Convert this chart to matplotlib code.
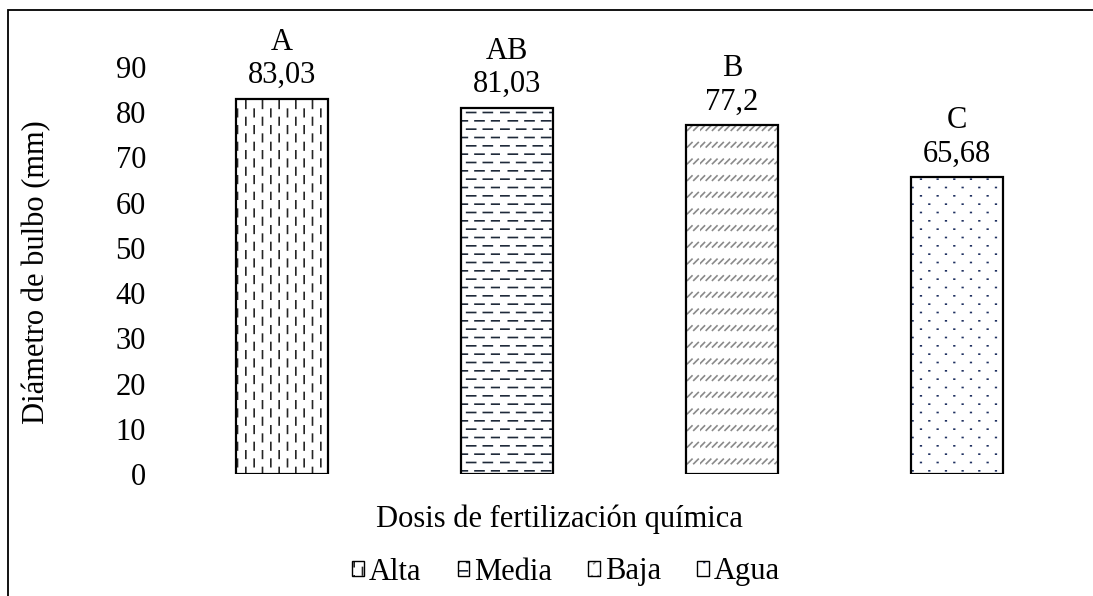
import numpy as np
import matplotlib
matplotlib.use("Agg")
import matplotlib.pyplot as plt
import matplotlib.hatch as mhatch
from matplotlib.path import Path
from matplotlib.patches import Rectangle, Patch

categories = ["Alta", "Media", "Baja", "Agua"]
values = [83.03, 81.03, 77.2, 65.68]
value_labels = ["83,03", "81,03", "77,2", "65,68"]
letters = ["A", "AB", "B", "C"]
yticks = list(range(0, 100, 10))
hatches = ["|", "-", "/", "."]
hatch_colors = ["#262626", "#1f2a3a", "#8a8a8a", "#1f3060"]

# ---- custom hatch patterns (dashed styles as in the reference) ----
_orig_get_path = mhatch.get_path


def _segments_path(segs):
    verts, codes = [], []
    for (x0, y0), (x1, y1) in segs:
        verts += [(x0, y0), (x1, y1)]
        codes += [Path.MOVETO, Path.LINETO]
    return Path(np.array(verts, float), np.array(codes, Path.code_type))


def custom_get_path(hatchpattern, density=6):
    segs = []
    if hatchpattern == "|":
        nc, nr, L = 12, 6, 0.075
        for i in range(nc):
            x = (i + 0.5) / nc
            off = 0.5 / nr if i % 2 else 0.0
            for j in range(nr):
                y0 = j / nr + off
                segs.append(((x, y0), (x, y0 + L)))
    elif hatchpattern == "-":
        nc, nr, L = 6, 12, 0.09
        for j in range(nr):
            y = (j + 0.5) / nr
            off = 0.5 / nc if j % 2 else 0.0
            for i in range(nc):
                x0 = i / nc + off
                segs.append(((x0, y), (x0 + L, y)))
    elif hatchpattern == "/":
        nr, nc, h = 6, 16, 0.045
        for j in range(nr):
            y0 = j / nr + 0.03
            for i in range(nc):
                x0 = i / nc
                segs.append(((x0, y0), (x0 + h, y0 + h)))
    elif hatchpattern == ".":
        nc, nr, d = 6, 12, 0.006
        for j in range(nr):
            y = (j + 0.5) / nr
            off = 0.5 / nc if j % 2 else 0.0
            for i in range(nc):
                x0 = i / nc + off + 0.04
                segs.append(((x0, y), (x0 + d, y)))
    else:
        return _orig_get_path(hatchpattern, density)
    return _segments_path(segs)


mhatch.get_path = custom_get_path

plt.rcParams["font.family"] = ["Liberation Serif", "DejaVu Serif"]
plt.rcParams["hatch.linewidth"] = 1.2

FS = 22
W, H = 1093, 596
fig = plt.figure(figsize=(W / 100, H / 100), dpi=100)
ax = fig.add_axes([169.5 / W, (H - 474) / H, 900 / W, (474 - 67) / H])

x = np.arange(len(categories))
# hatched fill (hatch colour follows the edge colour), then black outline
fills = ax.bar(x, values, width=0.41, color="white", edgecolor=hatch_colors,
               linewidth=0)
for b, h in zip(fills, hatches):
    b.set_hatch(h)
ax.bar(x, values, width=0.41, color="none", edgecolor="black", linewidth=1.6)

for xi, v, lab, let in zip(x, values, value_labels, letters):
    ax.annotate(f"{let}\n{lab}", (xi, v), xytext=(0, 6), textcoords="offset points",
                ha="center", va="bottom", fontsize=FS, linespacing=1.2)

ax.set_xlim(-0.5, len(categories) - 0.5)
ax.set_ylim(0, 90)
ax.set_yticks(yticks)
ax.set_xticks([])
ax.tick_params(axis="y", length=0, pad=17, labelsize=FS)
for s in ax.spines.values():
    s.set_visible(False)

fig.text(37 / W, 1 - 272 / H, "Diámetro de bulbo (mm)", rotation=90,
         ha="center", va="center", fontsize=FS)
fig.text(559 / W, 1 - 519 / H, "Dosis de fertilización química",
         ha="center", va="center", fontsize=FS)

handles = [Patch(facecolor="white", edgecolor=c, hatch=h, linewidth=0)
           for h, c in zip(hatches, hatch_colors)]
outl = [Patch(facecolor="none", edgecolor="black", linewidth=1.0) for _ in hatches]
fig.legend(list(zip(handles, outl)), categories, loc="center",
           bbox_to_anchor=(566 / W, 1 - 572 / H),
           ncol=4, frameon=False, fontsize=FS, handlelength=0.38, handleheight=0.38,
           handletextpad=0.15, columnspacing=1.2)

fig.patches.append(Rectangle((8 / W, -0.2), 1.2, 1.2 - 10 / H,
                             transform=fig.transFigure, fill=False,
                             edgecolor="black", linewidth=1.3))

fig.savefig("out.png", dpi=100)
